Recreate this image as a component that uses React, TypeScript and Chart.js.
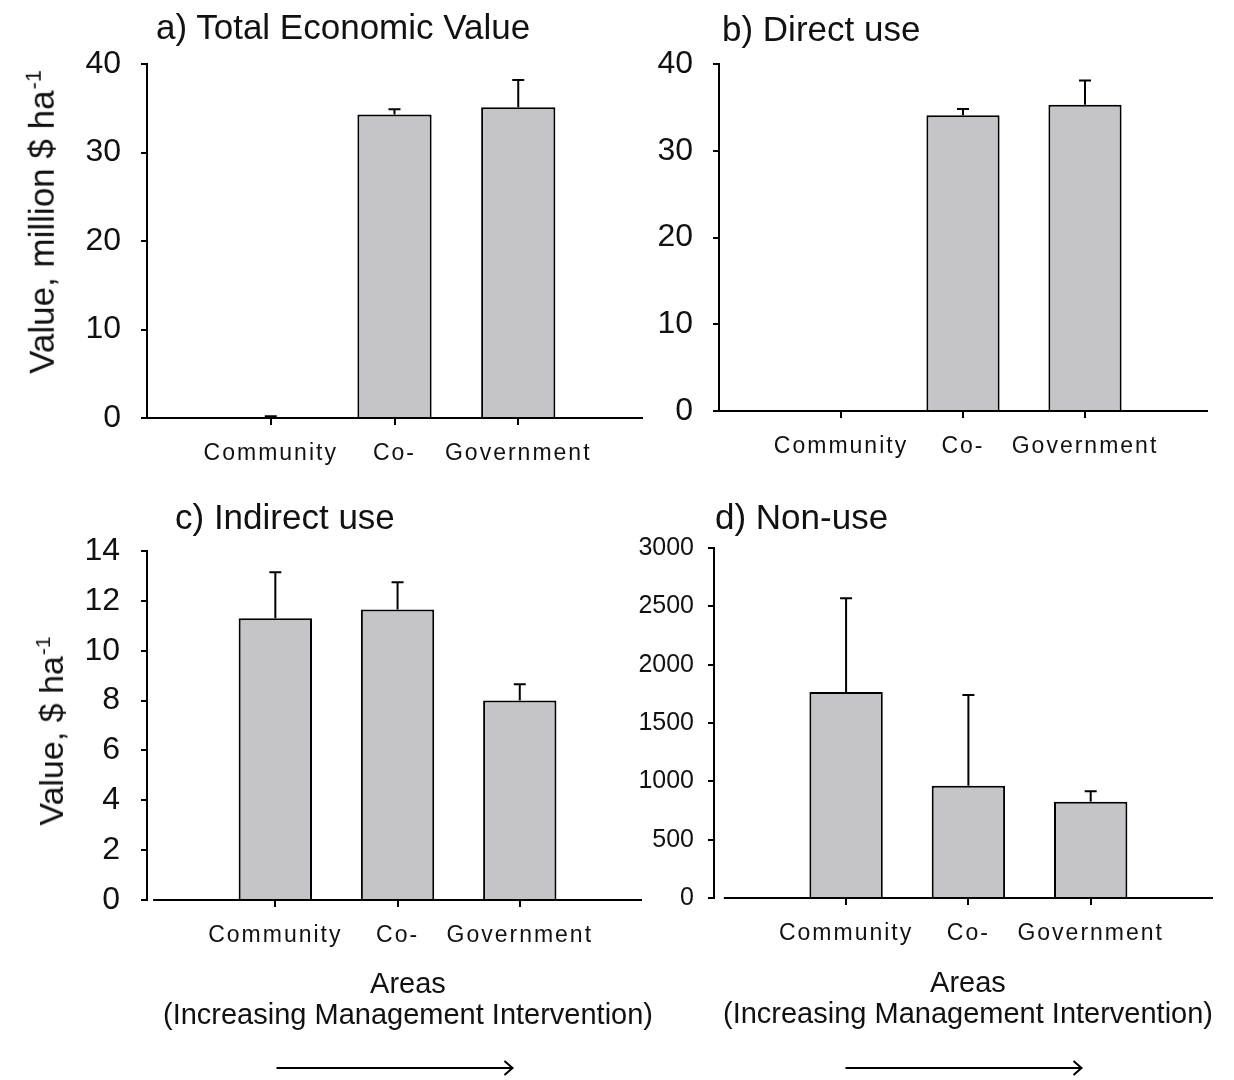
import React, { useEffect, useRef } from "react";
import { Chart, registerables } from "chart.js";

Chart.register(...registerables);

// ---------- data ----------
const categories = ["Community", "Co-", "Government"];
const categoryPositions = [1, 2, 3];

const totalValues = [0, 34.3, 35.1];
const totalErrors = [0.2, 0.6, 3.1];

const directValues = [0, 34.1, 35.3];
const directErrors = [0, 0.7, 2.8];

const indirectValues = [11.3, 11.65, 8.0];
const indirectErrors = [1.85, 1.1, 0.65];

const nonUseValues = [1765, 963, 824];
const nonUseErrors = [805, 776, 91];

const titles = ["a) Total Economic Value", "b) Direct use", "c) Indirect use", "d) Non-use"];
const yTitleTopMain = "Value, million $ ha";
const yTitleBottomMain = "Value, $ ha";
const yTitleSup = "-1";
const xTitleLines = ["Areas", "(Increasing Management Intervention)"];

// ---------- style ----------
const FONT = "'Liberation Sans', Arial, Helvetica, sans-serif";
const INK = "#111";
const BAR_FILL = "#c5c4c9";

type Box = { left: number; top: number; width: number; height: number };
type Area = { left: number; right: number; top: number; bottom: number };

type PanelSpec = {
  values: number[];
  errors: number[];
  yMax: number;
  yStep: number;
  xMin: number;
  canvas: Box;
  area: Area;
  tickFont: number;
  tickPad: number;
  arrow?: boolean;
  gapBaseline?: boolean;
};

const panels: PanelSpec[] = [
  {
    values: totalValues, errors: totalErrors, yMax: 40, yStep: 10, xMin: 0,
    canvas: { left: 0, top: 0, width: 650, height: 480 },
    area: { left: 147, right: 642, top: 64, bottom: 418 },
    tickFont: 32, tickPad: 20,
  },
  {
    values: directValues, errors: directErrors, yMax: 40, yStep: 10, xMin: 0,
    canvas: { left: 630, top: 0, width: 604, height: 480 },
    area: { left: 719, right: 1207, top: 64, bottom: 411 },
    tickFont: 32, tickPad: 20,
  },
  {
    values: indirectValues, errors: indirectErrors, yMax: 14, yStep: 2, xMin: -0.05,
    canvas: { left: 0, top: 480, width: 650, height: 600 },
    area: { left: 147, right: 642, top: 551, bottom: 900 },
    tickFont: 32, tickPad: 21,
    arrow: true, gapBaseline: true,
  },
  {
    values: nonUseValues, errors: nonUseErrors, yMax: 3000, yStep: 500, xMin: -0.08,
    canvas: { left: 620, top: 480, width: 614, height: 600 },
    area: { left: 714, right: 1213, top: 548, bottom: 898 },
    tickFont: 25, tickPad: 14,
    arrow: true, gapBaseline: true,
  },
];

const titlePositions = [
  { left: 156, top: 9 },
  { left: 722, top: 11 },
  { left: 175, top: 499 },
  { left: 715, top: 499 },
];

const yTitles = [
  { main: yTitleTopMain, cx: 38, cy: 222, size: 35 },
  { main: yTitleBottomMain, cx: 47, cy: 731, size: 34 },
];

const xTitlePositions = [
  { cx: 408, top: 968 },
  { cx: 968, top: 967 },
];

function makeDecorPlugin(spec: PanelSpec) {
  return {
    id: "decor",
    beforeDraw(chart: any) {
      (chart.ctx as any).letterSpacing = "0px";
    },
    afterDatasetsDraw(chart: any) {
      const ctx = chart.ctx;
      const meta = chart.getDatasetMeta(0);
      const ys = chart.scales.y;
      const xs = chart.scales.x;
      ctx.save();
      ctx.strokeStyle = "#000";
      ctx.lineWidth = 2;
      spec.values.forEach((v, i) => {
        const e = spec.errors[i];
        if (!e) return;
        const x = meta.data[i].x;
        const y0 = ys.getPixelForValue(v);
        const y1 = ys.getPixelForValue(v + e);
        ctx.beginPath();
        ctx.moveTo(x, y0);
        ctx.lineTo(x, y1);
        ctx.moveTo(x - 6, y1);
        ctx.lineTo(x + 6, y1);
        ctx.stroke();
      });
      if (spec.gapBaseline) {
        const yb = chart.chartArea.bottom;
        ctx.beginPath();
        ctx.moveTo(xs.getPixelForValue(0), yb);
        ctx.lineTo(chart.chartArea.right, yb);
        ctx.stroke();
      }
      ctx.restore();
      (ctx as any).letterSpacing = "2px";
    },
    afterDraw(chart: any) {
      const ctx = chart.ctx;
      (ctx as any).letterSpacing = "0px";
      if (!spec.arrow) return;
      const ca = chart.chartArea;
      const cx = (ca.left + ca.right) / 2;
      const half = 118;
      const ay = chart.height - 12;
      ctx.save();
      ctx.strokeStyle = "#000";
      ctx.lineWidth = 2;
      ctx.beginPath();
      ctx.moveTo(cx - half, ay);
      ctx.lineTo(cx + half, ay);
      ctx.moveTo(cx + half - 8, ay - 7);
      ctx.lineTo(cx + half, ay);
      ctx.lineTo(cx + half - 8, ay + 7);
      ctx.stroke();
      ctx.restore();
    },
  };
}

function Panel({ spec }: { spec: PanelSpec }) {
  const ref = useRef<HTMLCanvasElement>(null);
  useEffect(() => {
    const c = spec.canvas;
    const a = spec.area;
    const yW = a.left - c.left;
    const xH = c.top + c.height - a.bottom;
    const chart = new Chart(ref.current as HTMLCanvasElement, {
      type: "bar",
      data: {
        datasets: [
          {
            data: categoryPositions.map((x, i) => ({ x, y: spec.values[i] })) as any,
            backgroundColor: BAR_FILL,
            borderColor: "#000",
            borderWidth: 2,
            categoryPercentage: 1,
            barPercentage: 0.6,
          },
        ],
      },
      options: {
        responsive: false,
        animation: false,
        devicePixelRatio: 1,
        layout: {
          padding: { left: 0, right: c.left + c.width - a.right, top: a.top - c.top, bottom: 0 },
        },
        plugins: {
          legend: { display: false },
          tooltip: { enabled: false },
          title: { display: false },
        },
        scales: {
          x: {
            type: "linear",
            min: spec.xMin,
            max: 4,
            offset: false,
            afterBuildTicks: (s: any) => {
              s.ticks = categoryPositions.map((v) => ({ value: v }));
            },
            afterFit: (s: any) => {
              s.height = xH;
            },
            grid: {
              display: true,
              drawOnChartArea: false,
              drawTicks: true,
              tickLength: 7,
              color: "#000",
              lineWidth: 2,
              offset: false,
            },
            border: { display: !spec.gapBaseline, color: "#000", width: 2, z: 1 },
            ticks: {
              z: 1,
              padding: 15,
              autoSkip: false,
              maxRotation: 0,
              minRotation: 0,
              color: INK,
              font: { family: FONT, size: 23 },
              callback: (v: any) => {
                const idx = categoryPositions.indexOf(Number(v));
                return idx >= 0 ? categories[idx] : "";
              },
            },
          },
          y: {
            min: 0,
            max: spec.yMax,
            afterFit: (s: any) => {
              s.width = yW;
            },
            grid: {
              display: true,
              drawOnChartArea: false,
              drawTicks: true,
              tickLength: 6,
              color: "#000",
              lineWidth: 2,
            },
            border: { display: true, color: "#000", width: 2, z: 1 },
            ticks: {
              stepSize: spec.yStep,
              padding: spec.tickPad,
              color: INK,
              font: { family: FONT, size: spec.tickFont },
              callback: (v: any) => String(v),
            },
          },
        },
      } as any,
      plugins: [makeDecorPlugin(spec)],
    });
    return () => chart.destroy();
  }, [spec]);
  return (
    <canvas
      ref={ref}
      width={spec.canvas.width}
      height={spec.canvas.height}
      style={{
        position: "absolute",
        left: spec.canvas.left,
        top: spec.canvas.top,
        width: spec.canvas.width,
        height: spec.canvas.height,
      }}
    />
  );
}

export default function App() {
  return (
    <div
      style={{
        position: "absolute",
        left: 0,
        top: 0,
        width: 1234,
        height: 1080,
        background: "#fff",
        overflow: "hidden",
      }}
    >
      {panels.map((p, i) => (
        <Panel key={i} spec={p} />
      ))}
      {titles.map((t, i) => (
        <div
          key={"t" + i}
          style={{
            position: "absolute",
            left: titlePositions[i].left,
            top: titlePositions[i].top,
            fontFamily: FONT,
            fontSize: 35,
            lineHeight: "36px",
            color: INK,
            whiteSpace: "nowrap",
          }}
        >
          {t}
        </div>
      ))}
      {yTitles.map((y, i) => (
        <div
          key={"y" + i}
          style={{
            position: "absolute",
            left: y.cx,
            top: y.cy,
            transform: "translate(-50%, -50%) rotate(-90deg)",
            fontFamily: FONT,
            fontSize: y.size,
            lineHeight: "36px",
            color: INK,
            whiteSpace: "nowrap",
          }}
        >
          {y.main}
          <sup style={{ fontSize: "0.62em", verticalAlign: "0.62em", marginLeft: 1 }}>{yTitleSup}</sup>
        </div>
      ))}
      {xTitlePositions.map((p, i) => (
        <div
          key={"x" + i}
          style={{
            position: "absolute",
            left: p.cx,
            top: p.top,
            transform: "translateX(-50%)",
            fontFamily: FONT,
            fontSize: 29,
            lineHeight: "31px",
            color: INK,
            whiteSpace: "nowrap",
            textAlign: "center",
          }}
        >
          {xTitleLines.map((l, j) => (
            <div key={j}>{l}</div>
          ))}
        </div>
      ))}
    </div>
  );
}
